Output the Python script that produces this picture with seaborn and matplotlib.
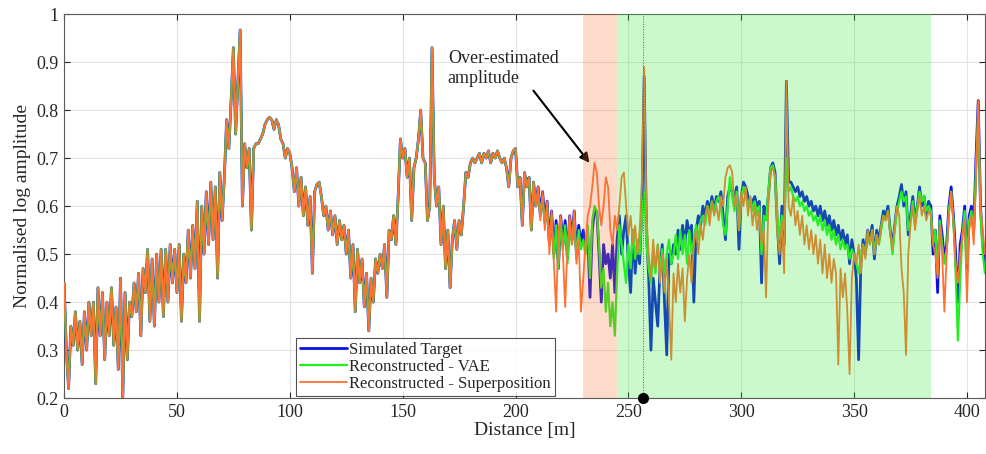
import numpy as np
import pandas as pd
import matplotlib
matplotlib.use('Agg')
import matplotlib.pyplot as plt
import seaborn as sns

# Values, one sample per metre (0 .. 408 m)
target = [
    0.44, 0.30, 0.22, 0.35, 0.31, 0.38, 0.30, 0.36, 0.27, 0.38,
    0.30, 0.40, 0.33, 0.40, 0.23, 0.43, 0.33, 0.42, 0.28, 0.40,
    0.33, 0.43, 0.31, 0.39, 0.26, 0.45, 0.20, 0.42, 0.28, 0.40,
    0.37, 0.44, 0.38, 0.46, 0.33, 0.47, 0.42, 0.51, 0.36, 0.49,
    0.35, 0.50, 0.40, 0.51, 0.37, 0.51, 0.40, 0.52, 0.44, 0.51,
    0.42, 0.52, 0.36, 0.50, 0.44, 0.55, 0.45, 0.56, 0.47, 0.61,
    0.36, 0.60, 0.50, 0.63, 0.52, 0.65, 0.53, 0.64, 0.45, 0.67,
    0.57, 0.66, 0.78, 0.72, 0.82, 0.93, 0.75, 0.86, 0.967, 0.60,
    0.73, 0.68, 0.72, 0.55, 0.72, 0.73, 0.73, 0.74, 0.75, 0.77,
    0.78, 0.785, 0.78, 0.76, 0.78, 0.77, 0.74, 0.73, 0.70, 0.72,
    0.71, 0.68, 0.63, 0.68, 0.60, 0.66, 0.58, 0.64, 0.56, 0.62,
    0.46, 0.63, 0.645, 0.65, 0.62, 0.58, 0.60, 0.55, 0.59, 0.54,
    0.58, 0.52, 0.57, 0.53, 0.56, 0.50, 0.55, 0.45, 0.52, 0.38,
    0.51, 0.44, 0.49, 0.39, 0.46, 0.34, 0.45, 0.40, 0.49, 0.46,
    0.50, 0.47, 0.52, 0.41, 0.55, 0.53, 0.58, 0.52, 0.62, 0.74,
    0.70, 0.72, 0.66, 0.70, 0.57, 0.68, 0.70, 0.74, 0.80, 0.70,
    0.69, 0.57, 0.60, 0.93, 0.66, 0.60, 0.64, 0.52, 0.60, 0.47,
    0.55, 0.43, 0.53, 0.57, 0.51, 0.57, 0.54, 0.60, 0.67, 0.66,
    0.69, 0.70, 0.69, 0.70, 0.71, 0.69, 0.71, 0.70, 0.715, 0.69,
    0.71, 0.70, 0.715, 0.70, 0.69, 0.70, 0.68, 0.64, 0.70, 0.715,
    0.72, 0.64, 0.66, 0.56, 0.67, 0.64, 0.66, 0.55, 0.65, 0.60,
    0.64, 0.58, 0.63, 0.57, 0.61, 0.52, 0.59, 0.50, 0.57, 0.47,
    0.58, 0.52, 0.57, 0.49, 0.58, 0.53, 0.59, 0.50, 0.56, 0.52,
    0.55, 0.52, 0.54, 0.41, 0.55, 0.59, 0.59, 0.50, 0.40, 0.52,
    0.48, 0.50, 0.45, 0.52, 0.42, 0.53, 0.58, 0.50, 0.55, 0.58,
    0.48, 0.42, 0.55, 0.46, 0.52, 0.48, 0.60, 0.87, 0.55, 0.45,
    0.30, 0.45, 0.40, 0.35, 0.47, 0.52, 0.40, 0.29, 0.50, 0.48,
    0.52, 0.50, 0.55, 0.51, 0.56, 0.52, 0.57, 0.54, 0.56, 0.40,
    0.55, 0.58, 0.56, 0.60, 0.58, 0.61, 0.59, 0.62, 0.59, 0.62,
    0.61, 0.63, 0.58, 0.53, 0.62, 0.64, 0.63, 0.62, 0.64, 0.51,
    0.62, 0.65, 0.64, 0.62, 0.60, 0.61, 0.62, 0.60, 0.61, 0.44,
    0.60, 0.58, 0.62, 0.68, 0.69, 0.67, 0.56, 0.48, 0.60, 0.52,
    0.86, 0.65, 0.65, 0.64, 0.63, 0.64, 0.62, 0.63, 0.61, 0.62,
    0.60, 0.61, 0.59, 0.60, 0.58, 0.60, 0.57, 0.59, 0.56, 0.58,
    0.55, 0.57, 0.54, 0.56, 0.53, 0.55, 0.52, 0.54, 0.48, 0.53,
    0.50, 0.45, 0.28, 0.48, 0.53, 0.50, 0.55, 0.53, 0.56, 0.49,
    0.55, 0.53, 0.56, 0.59, 0.58, 0.60, 0.55, 0.52, 0.56, 0.60,
    0.62, 0.645, 0.60, 0.63, 0.54, 0.58, 0.62, 0.57, 0.60, 0.64,
    0.60, 0.62, 0.58, 0.61, 0.60, 0.50, 0.55, 0.42, 0.58, 0.54,
    0.49, 0.52, 0.60, 0.64, 0.58, 0.50, 0.40, 0.52, 0.55, 0.60,
    0.47, 0.58, 0.60, 0.55, 0.70, 0.82, 0.60, 0.52, 0.48,
]

# The two reconstructions sit on the target up to 210 m, then these take over
tail_start = 210
vae_tail = [
    0.63, 0.58, 0.62, 0.56, 0.60, 0.52, 0.58, 0.49, 0.56, 0.47,
    0.57, 0.51, 0.56, 0.48, 0.57, 0.52, 0.58, 0.49, 0.55, 0.51,
    0.53, 0.50, 0.56, 0.45, 0.57, 0.60, 0.59, 0.52, 0.43, 0.47,
    0.38, 0.44, 0.35, 0.40, 0.33, 0.46, 0.56, 0.52, 0.48, 0.44,
    0.52, 0.47, 0.55, 0.49, 0.53, 0.50, 0.58, 0.63, 0.52, 0.47,
    0.44, 0.50, 0.46, 0.52, 0.47, 0.51, 0.46, 0.50, 0.53, 0.48,
    0.50, 0.54, 0.49, 0.55, 0.50, 0.54, 0.48, 0.55, 0.50, 0.53,
    0.56, 0.53, 0.57, 0.58, 0.56, 0.60, 0.58, 0.61, 0.59, 0.61,
    0.62, 0.60, 0.56, 0.54, 0.60, 0.66, 0.62, 0.59, 0.63, 0.55,
    0.61, 0.64, 0.62, 0.60, 0.62, 0.59, 0.61, 0.58, 0.60, 0.50,
    0.58, 0.57, 0.63, 0.68, 0.685, 0.66, 0.58, 0.53, 0.58, 0.55,
    0.70, 0.63, 0.64, 0.62, 0.61, 0.62, 0.60, 0.61, 0.59, 0.60,
    0.58, 0.59, 0.57, 0.58, 0.56, 0.58, 0.55, 0.57, 0.54, 0.56,
    0.53, 0.55, 0.52, 0.54, 0.51, 0.53, 0.51, 0.52, 0.49, 0.51,
    0.50, 0.48, 0.46, 0.50, 0.52, 0.50, 0.54, 0.52, 0.55, 0.50,
    0.54, 0.52, 0.55, 0.58, 0.57, 0.59, 0.55, 0.50, 0.55, 0.59,
    0.61, 0.63, 0.61, 0.62, 0.55, 0.57, 0.61, 0.56, 0.60, 0.63,
    0.61, 0.62, 0.59, 0.60, 0.59, 0.52, 0.55, 0.46, 0.57, 0.52,
    0.48, 0.51, 0.59, 0.63, 0.57, 0.46, 0.32, 0.45, 0.54, 0.59,
    0.48, 0.57, 0.59, 0.54, 0.68, 0.80, 0.58, 0.50, 0.46,
]
sup_tail = [
    0.64, 0.57, 0.63, 0.55, 0.61, 0.50, 0.59, 0.48, 0.38, 0.55,
    0.58, 0.50, 0.39, 0.52, 0.58, 0.52, 0.59, 0.48, 0.53, 0.38,
    0.45, 0.52, 0.58, 0.60, 0.64, 0.69, 0.67, 0.60, 0.56, 0.60,
    0.66, 0.64, 0.55, 0.52, 0.58, 0.55, 0.60, 0.66, 0.67, 0.60,
    0.54, 0.58, 0.52, 0.56, 0.50, 0.55, 0.65, 0.89, 0.58, 0.50,
    0.45, 0.53, 0.47, 0.52, 0.44, 0.50, 0.42, 0.49, 0.40, 0.28,
    0.46, 0.40, 0.48, 0.42, 0.47, 0.36, 0.45, 0.50, 0.44, 0.52,
    0.55, 0.50, 0.56, 0.53, 0.58, 0.60, 0.56, 0.61, 0.58, 0.60,
    0.57, 0.62, 0.60, 0.66, 0.68, 0.685, 0.67, 0.60, 0.62, 0.55,
    0.63, 0.60, 0.64, 0.58, 0.62, 0.56, 0.60, 0.55, 0.59, 0.52,
    0.55, 0.41, 0.60, 0.67, 0.68, 0.66, 0.54, 0.50, 0.57, 0.46,
    0.86, 0.60, 0.58, 0.62, 0.56, 0.59, 0.54, 0.58, 0.52, 0.56,
    0.51, 0.55, 0.50, 0.54, 0.48, 0.53, 0.46, 0.52, 0.45, 0.50,
    0.44, 0.49, 0.46, 0.27, 0.47, 0.41, 0.46, 0.38, 0.25, 0.45,
    0.50, 0.48, 0.52, 0.46, 0.52, 0.49, 0.55, 0.52, 0.55, 0.50,
    0.54, 0.52, 0.56, 0.58, 0.57, 0.59, 0.54, 0.51, 0.56, 0.60,
    0.58, 0.47, 0.42, 0.29, 0.50, 0.56, 0.60, 0.55, 0.59, 0.62,
    0.58, 0.60, 0.57, 0.59, 0.58, 0.52, 0.50, 0.45, 0.56, 0.50,
    0.38, 0.50, 0.58, 0.63, 0.57, 0.48, 0.44, 0.50, 0.54, 0.57,
    0.40, 0.55, 0.58, 0.52, 0.66, 0.82, 0.60, 0.55, 0.50,
]

labels = ['Simulated Target', 'Reconstructed - VAE', 'Reconstructed - Superposition']
colors = ['#0a14e0', '#22ee22', '#ff7033']
widths = [2.0, 1.6, 1.3]

over_band = (230, 245)      # over-estimated amplitude zone
green_band = (245, 384)
marker_x = 256.5

distance = np.arange(len(target))
vae = target[:tail_start] + vae_tail
sup = target[:tail_start] + sup_tail
df = pd.DataFrame({'distance': distance, labels[0]: target,
                   labels[1]: vae, labels[2]: sup})

sns.set_style('ticks')
plt.rcParams['font.family'] = ['Liberation Serif', 'DejaVu Serif']

fig = plt.figure(figsize=(9.86, 4.54), dpi=100)
ax = fig.add_axes([0.065, 0.123, 0.934, 0.846])

for lab, col, lw in zip(labels, colors, widths):
    sns.lineplot(data=df, x='distance', y=lab, color=col, linewidth=lw,
                 label=lab, ax=ax, zorder=3)

# shaded zones drawn over the lines, as in the original
ax.axvspan(*over_band, color='#f57033', alpha=0.25, lw=0, zorder=4)
ax.axvspan(*green_band, color='#33eb33', alpha=0.25, lw=0, zorder=4)

ax.axvline(marker_x, color='#555555', lw=0.7, ls=':', zorder=5)
ax.plot([marker_x], [0.2], 'o', color='black', ms=7, clip_on=False, zorder=6)

ax.annotate('Over-estimated\namplitude', xy=(232.8, 0.69), xytext=(170, 0.925),
            fontsize=13, ha='left', va='top', linespacing=1.25,
            arrowprops=dict(arrowstyle='-|>', color='black', lw=1.5,
                            mutation_scale=14, shrinkA=0, shrinkB=0,
                            relpos=(0.75, 0.0)))

ax.set_xlim(0, 408)
ax.set_ylim(0.2, 1.0)
ax.set_xticks(np.arange(0, 401, 50))
ax.set_yticks(np.arange(0.2, 1.01, 0.1))
ax.set_yticklabels(['0.2', '0.3', '0.4', '0.5', '0.6', '0.7', '0.8', '0.9', '1'])
ax.grid(True, color='#e3e3e3', lw=0.8, zorder=0)
ax.set_axisbelow(True)
ax.tick_params(direction='in', top=True, right=True, length=4,
               labelsize=13, colors='#262626', pad=4)
for sp in ax.spines.values():
    sp.set_color('#5a5a5a')
    sp.set_linewidth(0.8)

ax.set_xlabel('Distance [m]', fontsize=14, color='#262626', labelpad=1)
ax.set_ylabel('Normalised log amplitude', fontsize=14, color='#262626', labelpad=4)

leg = ax.legend(loc='lower left', bbox_to_anchor=(0.252, 0.006), borderaxespad=0,
                fontsize=12, frameon=True, fancybox=False, handlelength=2.8,
                handletextpad=0.15, labelspacing=0.05, borderpad=0.25)
leg.get_frame().set_edgecolor('#262626')
leg.get_frame().set_linewidth(0.8)
leg.set_zorder(10)

fig.savefig('out.png', dpi=100)
